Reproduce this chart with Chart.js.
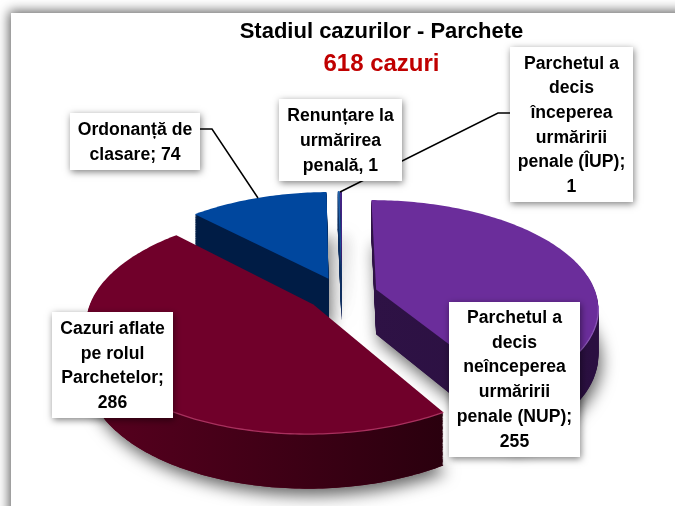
<!DOCTYPE html>
<html lang="ro">
<head>
<meta charset="utf-8">
<style>
html,body{margin:0;padding:0;background:#fff;overflow:hidden;width:675px;height:506px}
#frame{position:absolute;left:11px;top:13px;width:800px;height:700px;background:#fff;box-shadow:0 0 11px 2px rgba(0,0,0,.62)}
#c{position:absolute;left:0;top:0}
</style>
<script src="https://cdn.jsdelivr.net/npm/chart.js@4/dist/chart.umd.min.js"></script>
</head>
<body>
<div id="frame"></div>
<canvas id="c" width="675" height="506"></canvas>
<script>
// ---- data ----
const categories = ['Parchetul a decis neînceperea urmăririi penale (NUP)','Cazuri aflate pe rolul Parchetelor','Ordonanță de clasare','Renunțare la urmărirea penală','Parchetul a decis începerea urmăririi penale (ÎUP)'];
const values = [255, 286, 74, 1, 1];
const titleText = 'Stadiul cazurilor - Parchete';
const subtitleText = '618 cazuri';
const labelLines = [
  ['Parchetul a','decis','neînceperea','urmăririi','penale (NUP);','255'],
  ['Cazuri aflate','pe rolul','Parchetelor;','286'],
  ['Ordonanță de','clasare; 74'],
  ['Renunțare la','urmărirea','penală, 1'],
  ['Parchetul a','decis','începerea','urmăririi','penale (ÎUP);','1']
];
// ---- styles ----
const topColors  = ['#6b2d9b','#70002a','#00479e','#1f5fa8','#4a2a90'];
const wallLeft   = ['#2e1245','#58001f','#001c45','#0d2f60','#2a1550'];
const wallRight  = ['#2a0f40','#2a000e','#001c45','#0d2f60','#2a1550'];
const rimColors  = ['#8a55b5','#a8305e','#2a68b5','#2a68b5','#6a4ab0'];
// ---- layout of the drawing ----
const view = {cx:342, cy:294, A:220, B:105, p:.16, D:45};
const boxes = [
  {l:449,t:302,r:580,b:457,y0:318,dy:24.8},
  {l:52,t:312,r:173,b:418,y0:329,dy:24.7},
  {l:70,t:113,r:200,b:170,y0:130,dy:25},
  {l:279,t:99,r:402,b:181,y0:116,dy:25},
  {l:510,t:47,r:633,b:202,y0:64,dy:24.6}
];
const leaders = [
  [[200,129],[212,129],[258,198]],
  [[510,113],[498,113],[340,192]]
];

function project(u,v,d){
  const s = 1/(1-view.p*v);
  return [view.cx + view.A*u*s, view.cy + (view.B*v + d)*s];
}
function sliceGeom(el){
  const o = el.options.offset/el.outerRadius;
  const a0 = el.startAngle, a1 = el.endAngle, mid=(a0+a1)/2;
  const ox = Math.cos(mid)*o, oy = Math.sin(mid)*o;
  const n = Math.max(2, Math.ceil((a1-a0)/(Math.PI/180)));
  const arc = [];
  for(let i=0;i<=n;i++){
    const a = a0+(a1-a0)*i/n;
    arc.push([ox+Math.cos(a), oy+Math.sin(a)]);
  }
  return {ox,oy,arc,sortKey:oy};
}
function trace(ctx,g,d){
  ctx.beginPath();
  const p0 = project(g.ox,g.oy,d);
  ctx.moveTo(p0[0],p0[1]);
  g.arc.forEach(q=>{const p=project(q[0],q[1],d);ctx.lineTo(p[0],p[1]);});
  ctx.closePath();
}
const pie3d = {
  id:'pie3d',
  beforeDatasetsDraw(chart){
    const ctx = chart.ctx;
    const els = chart.getDatasetMeta(0).data;
    const items = els.map((el,i)=>({i,g:sliceGeom(el)})).sort((a,b)=>a.g.sortKey-b.g.sortKey);
    // soft cast shadow
    ctx.save();
    ctx.shadowColor='rgba(0,0,0,.6)';ctx.shadowBlur=16;ctx.shadowOffsetX=3;ctx.shadowOffsetY=7;
    items.forEach(it=>{
      ctx.fillStyle=wallLeft[it.i];
      trace(ctx,it.g,view.D);ctx.fill();
    });
    ctx.restore();
    items.forEach(it=>{
      const g=it.g,i=it.i;
      const xs=g.arc.map(q=>project(q[0],q[1],0)[0]).concat(project(g.ox,g.oy,0)[0]);
      const grad=ctx.createLinearGradient(Math.min(...xs),0,Math.max(...xs),0);
      grad.addColorStop(0,wallLeft[i]);grad.addColorStop(1,wallRight[i]);
      ctx.fillStyle=grad;
      for(let d=view.D;d>0;d-=1){trace(ctx,g,d);ctx.fill();}
      ctx.fillStyle=topColors[i];
      trace(ctx,g,0);ctx.fill();
      // front rim highlight
      ctx.strokeStyle=rimColors[i];ctx.lineWidth=1.3;
      ctx.beginPath();
      let started=false;
      g.arc.forEach(q=>{
        if(q[1]-g.oy<0.15){started=false;return;}
        const p=project(q[0],q[1],0);
        if(started)ctx.lineTo(p[0],p[1]);else{ctx.moveTo(p[0],p[1]);started=true;}
      });
      ctx.stroke();
    });
    return false;
  },
  afterDraw(chart){
    const ctx=chart.ctx;
    ctx.save();
    ctx.strokeStyle='#000';ctx.lineWidth=1.5;
    leaders.forEach(l=>{
      ctx.beginPath();
      l.forEach((p,i)=>i?ctx.lineTo(p[0],p[1]):ctx.moveTo(p[0],p[1]));
      ctx.stroke();
    });
    labelLines.forEach((lines,i)=>{
      const b=boxes[i];
      ctx.save();
      ctx.shadowColor='rgba(0,0,0,.5)';ctx.shadowBlur=7;ctx.shadowOffsetX=1;ctx.shadowOffsetY=2;
      ctx.fillStyle='#fff';
      ctx.fillRect(b.l,b.t,b.r-b.l,b.b-b.t);
      ctx.restore();
      ctx.fillStyle='#000';
      ctx.font='bold 17.6px "Liberation Sans", Arial, sans-serif';
      ctx.textAlign='center';ctx.textBaseline='middle';
      lines.forEach((t,k)=>ctx.fillText(t,(b.l+b.r)/2,b.y0+k*b.dy));
    });
    ctx.restore();
  }
};
new Chart(document.getElementById('c'),{
  type:'pie',
  data:{labels:categories,datasets:[{data:values,backgroundColor:topColors,borderWidth:0,offset:32}]},
  plugins:[pie3d],
  options:{
    responsive:false,animation:false,events:[],
    rotation:0,
    layout:{padding:{left:88,top:17,right:0,bottom:0}},
    plugins:{
      legend:{display:false},tooltip:{enabled:false},
      title:{display:true,text:titleText,color:'#000',fullSize:false,
        font:{family:'"Liberation Sans"',size:22,weight:'bold',lineHeight:1.2},padding:{top:2,bottom:3}},
      subtitle:{display:true,text:subtitleText,color:'#c00000',fullSize:false,
        font:{family:'"Liberation Sans"',size:24,weight:'bold',lineHeight:1.2},padding:{top:2,bottom:0}}
    }
  }
});
</script>
</body>
</html>
